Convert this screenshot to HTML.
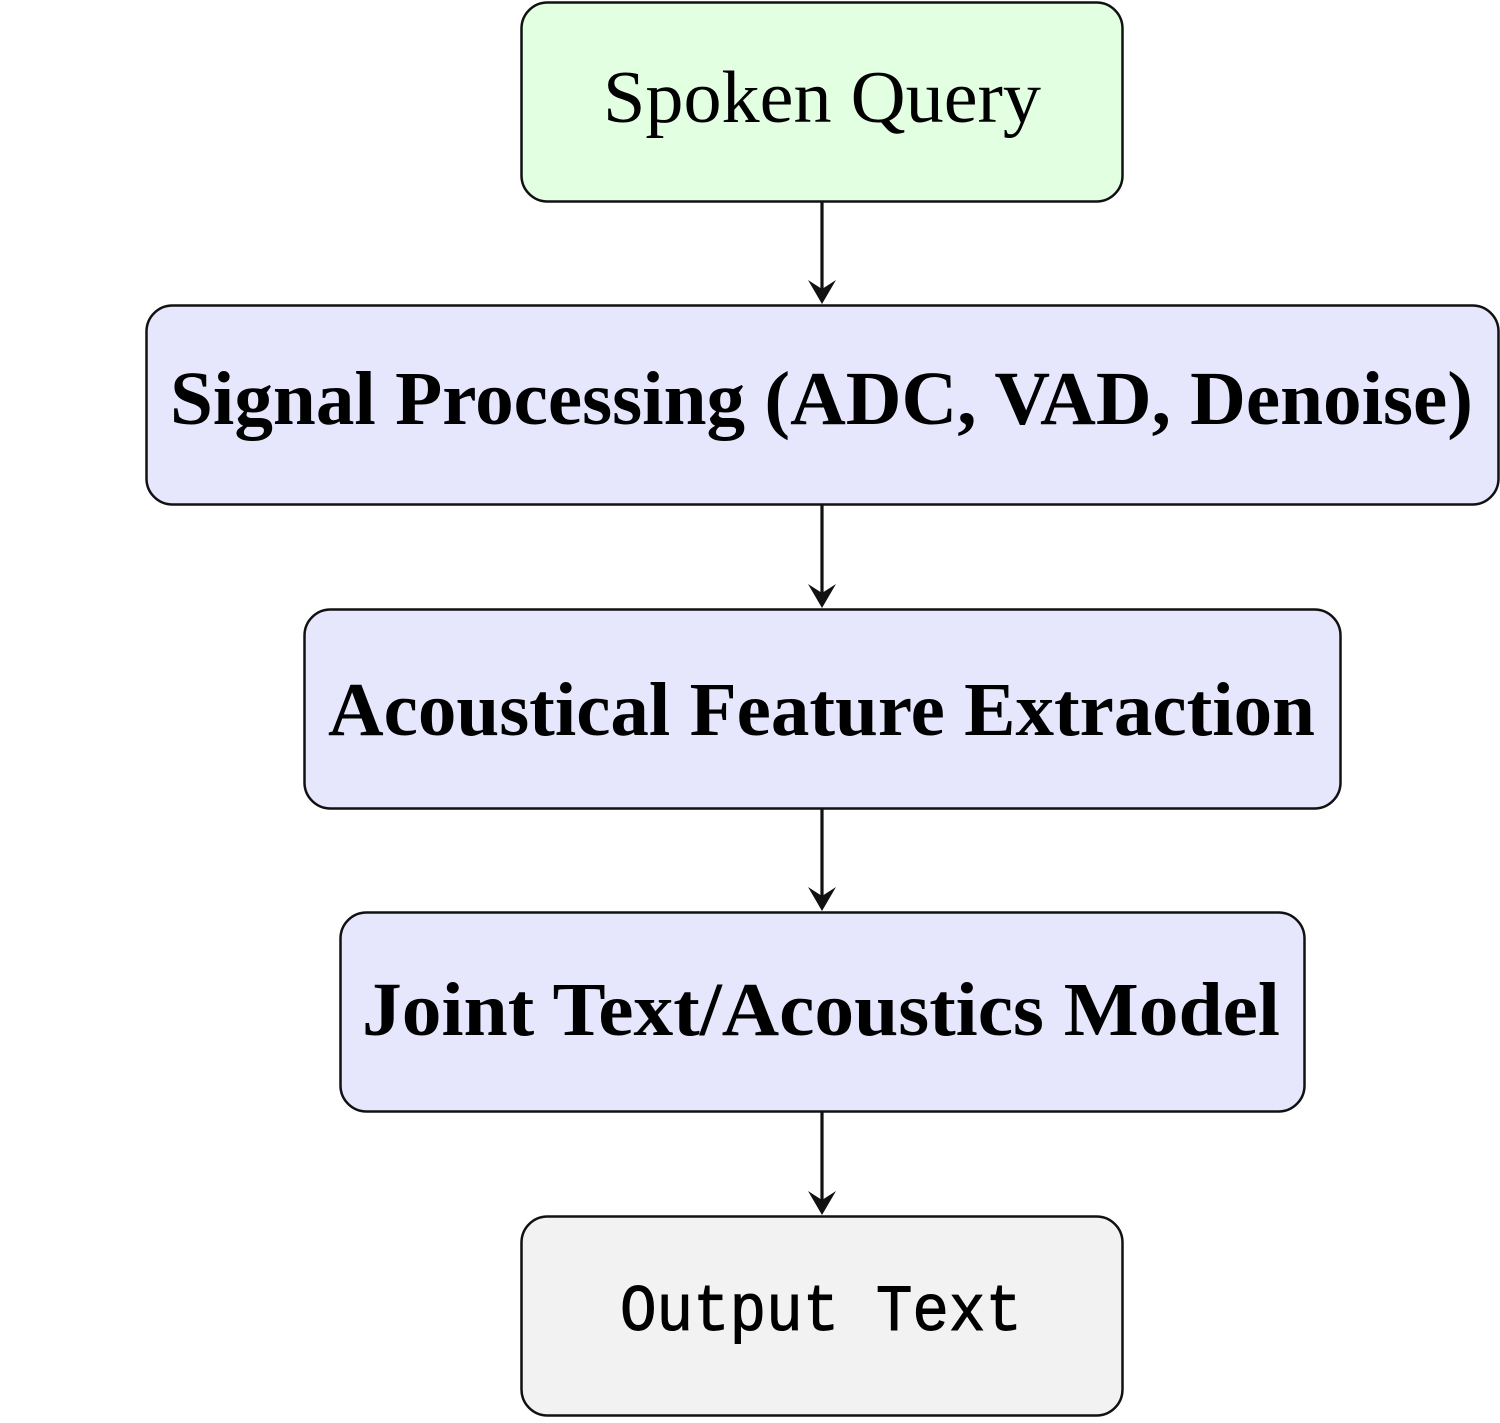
<!DOCTYPE html>
<html><head><style>html,body{margin:0;padding:0;background:#fff}</style></head>
<body>
<svg width="1500" height="1418" viewBox="0 0 1500 1418" xmlns="http://www.w3.org/2000/svg">
<g stroke="#111" stroke-width="2.5">
<rect x="521.5" y="2.5" width="601" height="199" rx="26" fill="#e2ffe2"/>
<rect x="146.5" y="305.5" width="1352" height="199" rx="26" fill="#e6e6fd"/>
<rect x="304.5" y="609.5" width="1036" height="199" rx="26" fill="#e6e6fd"/>
<rect x="340.5" y="912.5" width="964" height="199" rx="26" fill="#e6e6fd"/>
<rect x="521.5" y="1216.5" width="601" height="199" rx="26" fill="#f2f2f2"/>
</g>
<g stroke="#111" stroke-width="3.2">
<line x1="822" y1="202" x2="822" y2="296"/>
<line x1="822" y1="505" x2="822" y2="600"/>
<line x1="822" y1="809" x2="822" y2="903"/>
<line x1="822" y1="1112" x2="822" y2="1207"/>
</g>
<g fill="#111">
<path d="M822 304 L808 280 L822 289 L836 280 Z"/>
<path d="M822 608 L808 584 L822 593 L836 584 Z"/>
<path d="M822 911 L808 887 L822 896 L836 887 Z"/>
<path d="M822 1215 L808 1191 L822 1200 L836 1191 Z"/>
</g>
<g font-family="'Liberation Serif',serif" fill="#000">
<text x="603" y="122" font-size="74" textLength="438" lengthAdjust="spacingAndGlyphs">Spoken Query</text>
<text x="170" y="424" font-size="76" font-weight="bold" textLength="1303" lengthAdjust="spacingAndGlyphs">Signal Processing (ADC, VAD, Denoise)</text>
<text x="328" y="735" font-size="76" font-weight="bold" textLength="987" lengthAdjust="spacingAndGlyphs">Acoustical Feature Extraction</text>
<text x="362" y="1035" font-size="76" font-weight="bold" textLength="918" lengthAdjust="spacingAndGlyphs">Joint Text/Acoustics Model</text>
</g>
<text x="620" y="1330" font-family="'Liberation Mono',monospace" font-size="66" textLength="402" lengthAdjust="spacingAndGlyphs" fill="#000" stroke="#000" stroke-width="1">Output Text</text>
</svg>
</body></html>
